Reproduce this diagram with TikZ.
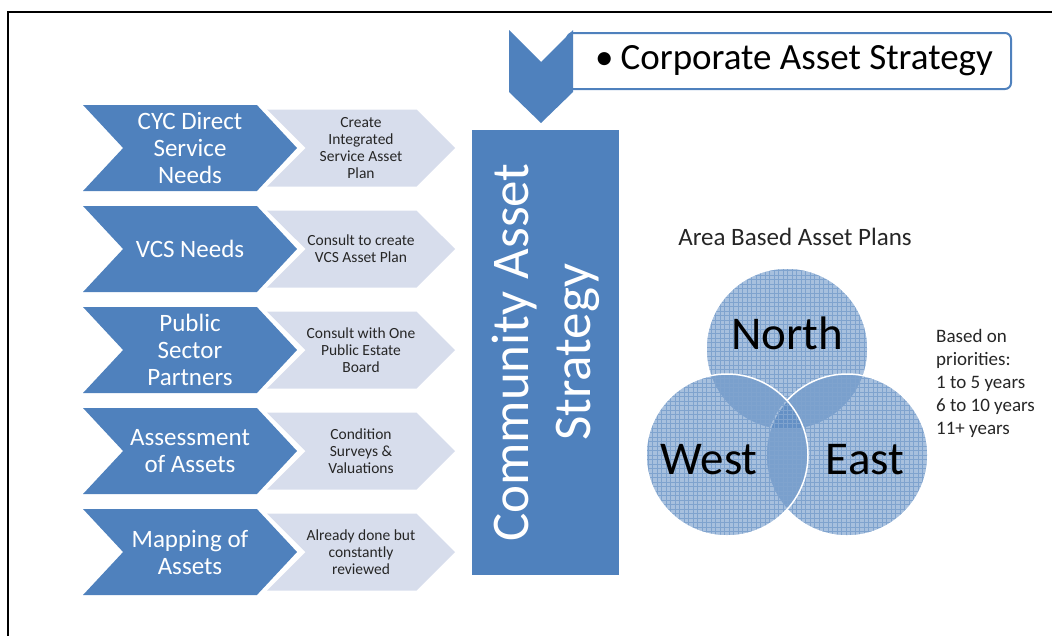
\documentclass[tikz,border=0pt]{standalone}
\usepackage{fontspec}
\setmainfont{Carlito}
\usetikzlibrary{shapes.symbols, patterns, positioning}
\definecolor{stratblue}{HTML}{4F81BD}
\definecolor{planfill}{HTML}{D7DDEC}
\definecolor{plantext}{HTML}{262626}
\pgfdeclarepatternformonly{areagrid}{\pgfqpoint{-1pt}{-1pt}}{\pgfqpoint{5.5pt}{5.5pt}}{\pgfqpoint{4.5pt}{4.5pt}}{
    \pgfsetlinewidth{0.7pt}
    \pgfpathmoveto{\pgfqpoint{0pt}{0pt}}\pgfpathlineto{\pgfqpoint{4.6pt}{0pt}}
    \pgfpathmoveto{\pgfqpoint{0pt}{0pt}}\pgfpathlineto{\pgfqpoint{0pt}{4.6pt}}
    \pgfusepath{stroke}}

\begin{document}
\begin{tikzpicture}[x=1pt, y=-1pt,
    needchev/.style={signal, signal to=east, signal from=west, signal pointer angle=94, fill=stratblue, text=white, minimum width=214, minimum height=86, inner sep=0pt, align=center, font=\fontsize{25}{27}\selectfont},
    planchev/.style={signal, signal to=east, signal from=west, signal pointer angle=90, fill=planfill, text=plantext, minimum width=188, minimum height=77, inner sep=0pt, align=center, font=\fontsize{15.5}{17}\selectfont},
    area/.style={circle, minimum size=162, inner sep=0pt, preaction={pattern=areagrid, pattern color=stratblue!45}, fill=stratblue, fill opacity=0.5, draw=white, line width=1.5},
    arealabel/.style={text=black, font=\fontsize{47}{54}\selectfont}]
    \useasboundingbox (0, 0) rectangle (1052, 635);
    \draw[line width=2] (8, 12) rectangle (1070, 660);

    % corporate strategy on top
    \node[draw=stratblue, line width=2, rounded corners=6, fill=white, minimum width=444, minimum height=56, anchor=west] at (566, 61) (corpBox) {};
    \node[anchor=west, text=black, font=\fontsize{37}{42}\selectfont, inner sep=0pt] at ([xshift=29]corpBox.west) (corpText) {\textbullet\hspace{7pt}Corporate Asset Strategy};
    \fill[stratblue] (509, 30) -- (541, 62) -- (573, 30) -- (573, 92) -- (541, 123) -- (509, 92) -- cycle;

    % needs and plans
    \node[needchev] at (190, 148) (cycNeeds) {CYC Direct\\Service\\Needs};
    \node[planchev] at (361, 148) (cycPlan) {Create\\Integrated\\Service Asset\\Plan};
    \node[needchev] at (190, 249) (vcsNeeds) {VCS Needs};
    \node[planchev] at (361, 249) (vcsPlan) {Consult to create\\VCS Asset Plan};
    \node[needchev] at (190, 350) (pspNeeds) {Public\\Sector\\Partners};
    \node[planchev] at (361, 350) (pspPlan) {Consult with One\\Public Estate\\Board};
    \node[needchev] at (190, 451) (assessNeeds) {Assessment\\of Assets};
    \node[planchev] at (361, 451) (assessPlan) {Condition\\Surveys \&\\Valuations};
    \node[needchev] at (190, 552) (mapNeeds) {Mapping of\\Assets};
    \node[planchev] at (361, 552) (mapPlan) {Already done but\\constantly\\reviewed};

    % community strategy
    \node[fill=stratblue, rotate=90, minimum width=445, minimum height=147, inner sep=0pt, text=white, align=center, font=\fontsize{53}{62}\selectfont] at (545.5, 352.5) (commBox) {Community Asset\\Strategy};

    % area based plans
    \node[text=plantext, font=\fontsize{25}{30}\selectfont] at (795, 237) (areaTitle) {Area Based Asset Plans};
    \node[area] at (787, 349) (north) {};
    \node[area] at (847, 455) (east) {};
    \node[area] at (727, 455) (west) {};
    \node[arealabel] at (787, 333) (northText) {North};
    \node[arealabel] at (709, 460) (westText) {West};
    \node[arealabel] at (865, 460) (eastText) {East};
    \node[anchor=west, align=left, text=plantext, font=\fontsize{19}{23}\selectfont, inner sep=0pt] at (936, 383.5) (priorities) {Based on\\priorities:\\1 to 5 years\\6 to 10 years\\11+ years};
\end{tikzpicture}
\end{document}
